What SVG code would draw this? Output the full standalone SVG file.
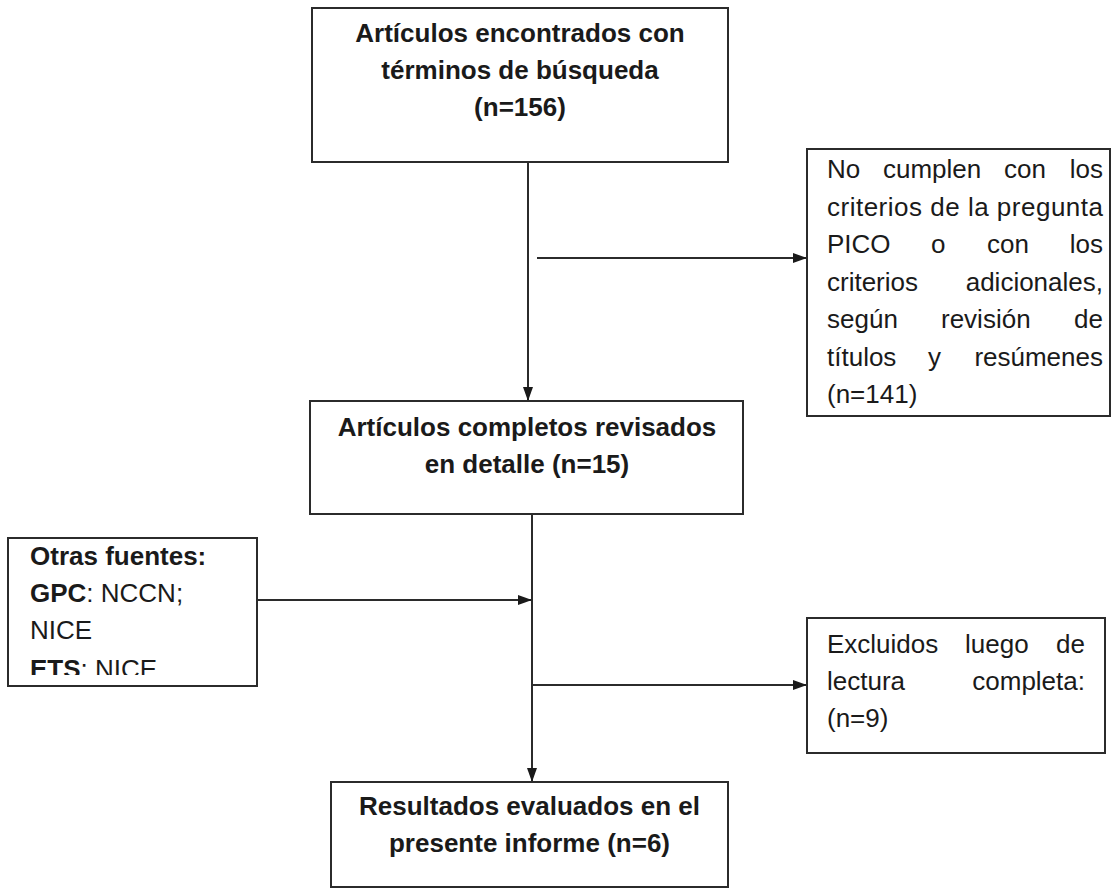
<svg xmlns="http://www.w3.org/2000/svg" width="1111" height="888" viewBox="0 0 1111 888">
<style>
.box{fill:#fff;stroke:#2b2b2b;stroke-width:2}
.t{font-family:"Liberation Sans",Arial,sans-serif;font-size:26px;fill:#1a1a1a}
.b{font-weight:bold}
.c{text-anchor:middle}
.ln{stroke:#2b2b2b;stroke-width:2;fill:none}
</style>
<defs>
<marker id="ah" markerWidth="14" markerHeight="10" refX="14" refY="5" orient="auto" markerUnits="userSpaceOnUse">
<path d="M0,0 L14,5 L0,10 Z" fill="#1a1a1a"/>
</marker>
<clipPath id="clipL"><rect x="8" y="538" width="249" height="137"/></clipPath>
</defs>
<rect width="1111" height="888" fill="#fff"/>
<g id="connectors">
<line class="ln" x1="528" y1="162" x2="528" y2="401" marker-end="url(#ah)"/>
<line class="ln" x1="537" y1="258" x2="807" y2="258" marker-end="url(#ah)"/>
<line class="ln" x1="532" y1="514" x2="532" y2="782" marker-end="url(#ah)"/>
<line class="ln" x1="257" y1="600" x2="532" y2="600" marker-end="url(#ah)"/>
<line class="ln" x1="533" y1="685" x2="807" y2="685" marker-end="url(#ah)"/>
</g>
<g id="n1">
<rect class="box" x="312" y="8" width="416" height="154"/>
<text class="t b c" x="520" y="42">Artículos encontrados con</text>
<text class="t b c" x="520" y="79">términos de búsqueda</text>
<text class="t b c" x="520" y="116">(n=156)</text>
</g>
<g id="n2">
<rect class="box" x="807" y="149" width="303" height="267"/>
<text class="t" y="178"><tspan x="827">No</tspan><tspan x="883">cumplen</tspan><tspan x="1004">con</tspan><tspan x="1103" text-anchor="end">los</tspan></text>
<text class="t" x="827" y="215.5" textLength="276" lengthAdjust="spacing">criterios de la pregunta</text>
<text class="t" y="253"><tspan x="827">PICO</tspan><tspan x="931">o</tspan><tspan x="987">con</tspan><tspan x="1103" text-anchor="end">los</tspan></text>
<text class="t" y="290.5"><tspan x="827">criterios</tspan><tspan x="1103" text-anchor="end">adicionales,</tspan></text>
<text class="t" y="328"><tspan x="827">según</tspan><tspan x="941">revisión</tspan><tspan x="1103" text-anchor="end">de</tspan></text>
<text class="t" y="365.5"><tspan x="827">títulos</tspan><tspan x="928">y</tspan><tspan x="1103" text-anchor="end">resúmenes</tspan></text>
<text class="t" x="827" y="403">(n=141)</text>
</g>
<g id="n3">
<rect class="box" x="310" y="401" width="433" height="113"/>
<text class="t b c" x="527" y="436">Artículos completos revisados</text>
<text class="t b c" x="527" y="473">en detalle (n=15)</text>
</g>
<g id="n4">
<rect class="box" x="8" y="538" width="249" height="148"/>
<g clip-path="url(#clipL)">
<text class="t b" x="30" y="565">Otras fuentes:</text>
<text class="t" x="30" y="602"><tspan font-weight="bold">GPC</tspan>: NCCN;</text>
<text class="t" x="30" y="639">NICE</text>
<text class="t" x="30" y="678"><tspan font-weight="bold">ETS</tspan>: NICE</text>
</g>
</g>
<g id="n5">
<rect class="box" x="807" y="618" width="298" height="135"/>
<text class="t" y="653"><tspan x="827">Excluidos</tspan><tspan x="965">luego</tspan><tspan x="1085" text-anchor="end">de</tspan></text>
<text class="t" y="690"><tspan x="827">lectura</tspan><tspan x="1085" text-anchor="end">completa:</tspan></text>
<text class="t" x="827" y="727">(n=9)</text>
</g>
<g id="n6">
<rect class="box" x="331" y="782" width="397" height="105"/>
<text class="t b c" x="529.5" y="815">Resultados evaluados en el</text>
<text class="t b c" x="529.5" y="852">presente informe (n=6)</text>
</g>
</svg>
